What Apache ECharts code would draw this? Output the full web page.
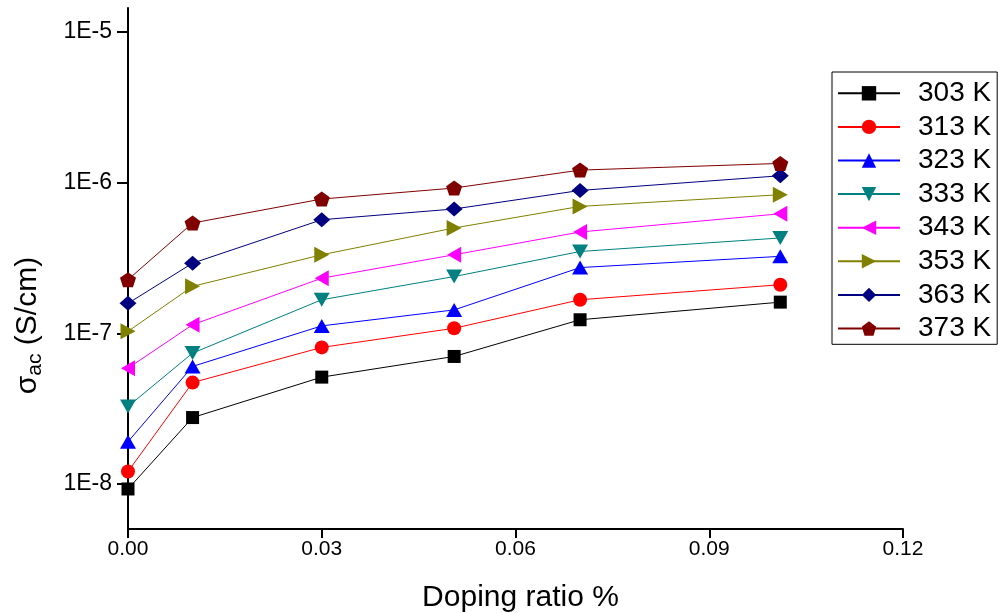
<!DOCTYPE html>
<html>
<head>
<meta charset="utf-8">
<script src="https://cdn.jsdelivr.net/npm/echarts@6/dist/echarts.min.js"></script>
<style>html,body{margin:0;padding:0;background:#fff;}#c{width:999px;height:613px;}</style>
</head>
<body>
<div id="c"></div>
<script>
const dopingRatio = [0, 0.01, 0.03, 0.0505, 0.07, 0.101];
const seriesNames = ['303 K', '313 K', '323 K', '333 K', '343 K', '353 K', '363 K', '373 K'];
const s303 = [9.27e-9, 2.76e-8, 5.12e-8, 7.02e-8, 1.23e-7, 1.61e-7];
const s313 = [1.21e-8, 4.71e-8, 8.06e-8, 1.08e-7, 1.67e-7, 2.10e-7];
const s323 = [1.91e-8, 6.03e-8, 1.12e-7, 1.43e-7, 2.73e-7, 3.24e-7];
const s333 = [3.27e-8, 7.39e-8, 1.67e-7, 2.38e-7, 3.49e-7, 4.29e-7];
const s343 = [5.87e-8, 1.14e-7, 2.32e-7, 3.32e-7, 4.70e-7, 6.21e-7];
const s353 = [1.03e-7, 2.05e-7, 3.32e-7, 5.00e-7, 6.95e-7, 8.31e-7];
const s363 = [1.58e-7, 2.92e-7, 5.67e-7, 6.68e-7, 8.87e-7, 1.11e-6];
const s373 = [2.27e-7, 5.39e-7, 7.78e-7, 9.20e-7, 1.21e-6, 1.34e-6];
const xTicks = [0, 0.03, 0.06, 0.09, 0.12];
const yTicks = [1e-8, 1e-7, 1e-6, 1e-5];

const allValues = [s303, s313, s323, s333, s343, s353, s363, s373];
const colors = ['#000000', '#ff0000', '#0000ff', '#008080', '#ff00ff', '#808000', '#000080', '#800000'];
const symbols = [
  'rect',
  'circle',
  'triangle',
  'path://M0,0L2,0L1,2Z',
  'path://M0,1L2,0L2,2Z',
  'path://M0,0L2,1L0,2Z',
  'diamond',
  'path://M1,0L1.951,0.691L1.588,1.809L0.412,1.809L0.049,0.691Z'
];
const symbolSizes = [[13, 13], [14, 14], [16, 14], [16, 14], [14, 16], [15, 16], [17, 15], [16, 15]];
const FONT = '"Liberation Sans", Arial, sans-serif';

const series = allValues.map((vals, i) => ({
  name: seriesNames[i],
  type: 'line',
  data: dopingRatio.map((x, j) => [x, vals[j]]),
  symbol: symbols[i],
  symbolSize: symbolSizes[i],
  showAllSymbol: true,
  clip: false,
  color: colors[i],
  lineStyle: { width: 1, color: colors[i] },
  itemStyle: { color: colors[i] },
  animation: false
}));

const chart = echarts.init(document.getElementById('c'), null, { renderer: 'canvas' });
chart.setOption({
  backgroundColor: '#ffffff',
  animation: false,
  grid: { left: 128, right: 96, top: 8, bottom: 84, outerBoundsMode: 'none', containLabel: false },
  xAxis: {
    type: 'value',
    min: 0, max: 0.12, interval: 0.03,
    name: 'Doping ratio %',
    nameLocation: 'middle',
    nameGap: 54,
    nameTextStyle: { fontFamily: FONT, fontSize: 30, color: '#000', padding: [0, 0, 0, 10] },
    axisLine: { lineStyle: { color: '#000', width: 2 } },
    axisTick: { show: true, inside: false, length: 9, lineStyle: { color: '#000', width: 2 }, customValues: xTicks },
    axisLabel: { fontFamily: FONT, fontSize: 21, color: '#000', margin: 10, customValues: xTicks,
      formatter: v => v.toFixed(2) },
    splitLine: { show: false }
  },
  yAxis: {
    type: 'log',
    logBase: 10,
    min: 5.03e-9, max: 1.44e-5,
    name: '{g|σ}{sub|ac}{g| (S/cm)}',
    nameLocation: 'middle',
    nameRotate: 90,
    nameGap: 82,
    nameTextStyle: {
      fontFamily: FONT, fontSize: 30, color: '#000',
      padding: [0, 114, 0, 0],
      rich: {
        g: { fontFamily: FONT, fontSize: 30, color: '#000', lineHeight: 36, verticalAlign: 'middle' },
        sub: { fontFamily: FONT, fontSize: 21, color: '#000', lineHeight: 36, verticalAlign: 'bottom' }
      }
    },
    axisLine: { lineStyle: { color: '#000', width: 2 } },
    axisTick: { show: true, inside: false, length: 11, lineStyle: { color: '#000', width: 2 }, customValues: yTicks },
    axisLabel: { fontFamily: FONT, fontSize: 23, color: '#000', margin: 16, customValues: yTicks,
      formatter: v => '1E' + Math.round(Math.log10(v)) },
    minorTick: { show: false },
    splitLine: { show: false }
  },
  legend: {
    orient: 'vertical',
    left: 832, top: 72,
    itemWidth: 62, itemHeight: 18, itemGap: 5.6,
    padding: [7.3, 6, 1.8, 5],
    borderColor: '#000', borderWidth: 1,
    textStyle: { fontFamily: FONT, fontSize: 28, color: '#000', lineHeight: 26, padding: [0, 0, 0, 13] },
    data: seriesNames
  },
  series: series
});
</script>
</body>
</html>
